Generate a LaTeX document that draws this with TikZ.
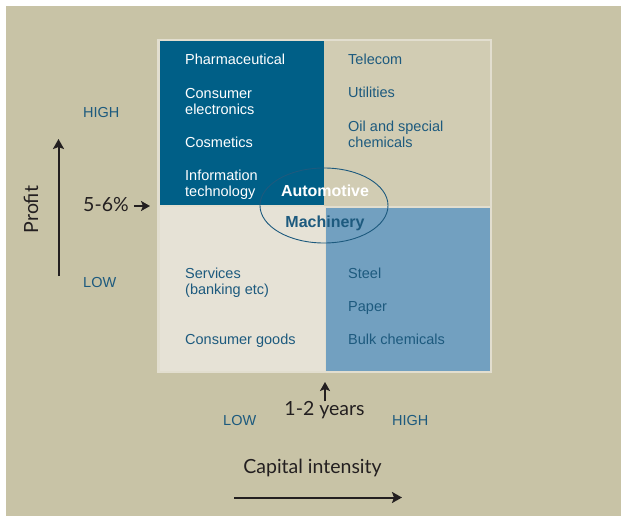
\documentclass[tikz,border=0pt]{standalone}
\usepackage{fontspec}
\usepackage{tikz}
\usetikzlibrary{arrows.meta}
\setmainfont{Liberation Sans}
\newfontfamily\axisfont{Lato}

\definecolor{paper}{HTML}{C8C3A6}
\definecolor{frame}{HTML}{E2DECF}
\definecolor{deepblue}{HTML}{005F87}
\definecolor{sand}{HTML}{D1CCB3}
\definecolor{cream}{HTML}{E6E2D6}
\definecolor{paleblue}{HTML}{72A0C0}
\definecolor{inkblue}{HTML}{1D5A7E}
\definecolor{ink}{HTML}{231F20}

\tikzset{
  sector/.style={anchor=base west,align=left,inner sep=0pt,text=inkblue,
    font=\fontsize{14.5}{16.5}\selectfont},
  light/.style={sector,text=white},
  level/.style={anchor=base west,inner sep=0pt,text=inkblue,
    font=\fontsize{14.5}{16.5}\selectfont},
  axislabel/.style={inner sep=0pt,text=ink,font=\axisfont\fontsize{19.5}{22}\selectfont},
  axisarrow/.style={draw=ink,line width=2pt,-{Stealth[length=10pt,width=11pt,inset=2pt]}},
  shortarrow/.style={draw=ink,line width=1.8pt,-{Stealth[length=9pt,width=10pt,inset=2pt]}}
}

\begin{document}
\begin{tikzpicture}[x=1pt,y=-1pt]
  \useasboundingbox (0,0) rectangle (621,516);
  \fill[white] (0,0) rectangle (621,516);
  \fill[paper] (6,6) rectangle (621,516);

  % the four quadrants
  \fill[frame] (157,39) rectangle (492,373);
  \fill[deepblue] (159.5,41) rectangle (323.5,205);
  \fill[sand] (324,41) rectangle (489.5,206);
  \fill[cream] (159.5,207) rectangle (325,371);
  \fill[paleblue] (326,207.5) rectangle (489.5,371);

  % high profit, low capital (two-line nodes sit on their last line)
  \node[light] (pharma) at (185,65) {Pharmaceutical};
  \node[light] (electro) at (185,114.5) {Consumer\\electronics};
  \node[light] (cosm) at (185,147) {Cosmetics};
  \node[light] (infotech) at (185,196.5) {Information\\technology};
  % high profit, high capital
  \node[sector] (telecom) at (348,65) {Telecom};
  \node[sector] (util) at (348,98) {Utilities};
  \node[sector] (oil) at (348,147.5) {Oil and special\\chemicals};
  % low profit, low capital
  \node[sector] (serv) at (185,294.5) {Services\\(banking etc)};
  \node[sector] (goods) at (185,344) {Consumer goods};
  % low profit, high capital
  \node[sector] (steel) at (348,278) {Steel};
  \node[sector] (paper) at (348,311) {Paper};
  \node[sector] (bulk) at (348,344) {Bulk chemicals};

  % the middle ground
  \draw[inkblue,line width=0.9pt] (324,205.5) ellipse [x radius=64,y radius=37.5];
  \node[anchor=base,inner sep=0pt,text=white,font=\bfseries\fontsize{16}{18}\selectfont]
    (auto) at (325,196.7) {Automotive};
  \node[anchor=base,inner sep=0pt,text=inkblue,font=\bfseries\fontsize{16}{18}\selectfont]
    (mach) at (325,227) {Machinery};

  % profit axis
  \node[axislabel,rotate=90] (profit) at (31,209.5) {Profit};
  \node[level] (phigh) at (83,118) {HIGH};
  \node[level] (plow) at (83,287) {LOW};
  \coordinate (pbot) at (58.5,276);
  \coordinate (ptop) at (58.5,139);
  \draw[axisarrow] (pbot) -- (ptop);
  \node[axislabel,anchor=base west,inner xsep=0pt] (pct) at (83,211.7) {5-6\%};
  \coordinate (pcttip) at (150,206);
  \draw[shortarrow] ([xshift=5pt]pct.east |- pcttip) -- (pcttip);

  % capital axis
  \node[axislabel,anchor=base] (years) at (324.5,415.7) {1-2 years};
  \coordinate (ytip) at (325,382);
  \draw[shortarrow] (years.north -| ytip) -- (ytip);
  \node[level] (clow) at (223,425) {LOW};
  \node[level] (chigh) at (392,425) {HIGH};
  \node[axislabel,anchor=base] (capital) at (312.5,473) {Capital intensity};
  \coordinate (cleft) at (234,497.5);
  \coordinate (cright) at (402,497.5);
  \draw[axisarrow] (cleft) -- (cright);
\end{tikzpicture}
\end{document}
